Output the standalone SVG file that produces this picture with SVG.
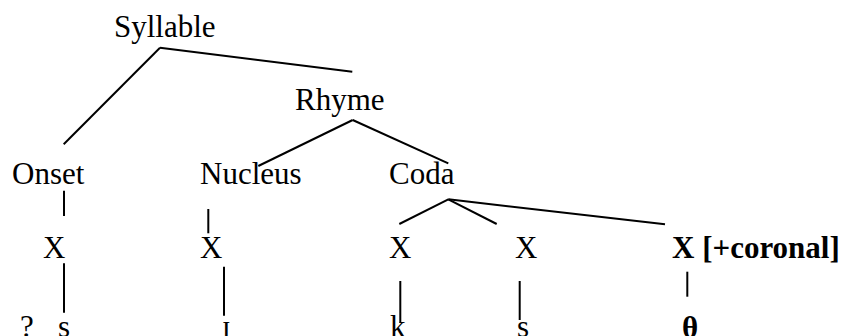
<svg xmlns="http://www.w3.org/2000/svg" width="847" height="336" viewBox="0 0 847 336">
<style>
text{font-family:"Liberation Serif","Times New Roman",serif;font-size:31px;fill:#000}
.b{font-weight:bold}
#connectors line{stroke:#000;stroke-width:2;fill:none}
</style>
<rect width="847" height="336" fill="#fff"/>
<g id="connectors">
<line x1="160" y1="47.7" x2="63.7" y2="144.3"/>
<line x1="160" y1="47.7" x2="352.3" y2="71.7"/>
<line x1="352.7" y1="120" x2="258.3" y2="166"/>
<line x1="352.7" y1="120" x2="448.3" y2="163.3"/>
<line x1="448.3" y1="199.3" x2="399.3" y2="224"/>
<line x1="448.3" y1="199.3" x2="496.7" y2="224"/>
<line x1="448.3" y1="199.3" x2="665" y2="224.3"/>
<line x1="64" y1="190.7" x2="64" y2="216"/>
<line x1="208.3" y1="209" x2="208.3" y2="233.3"/>
<line x1="64" y1="263.3" x2="64" y2="312.7"/>
<line x1="224" y1="266.7" x2="224" y2="315.7"/>
<line x1="400.3" y1="281" x2="400.3" y2="323"/>
<line x1="519.7" y1="281" x2="519.7" y2="320"/>
<line x1="687.3" y1="271.7" x2="687.3" y2="296.7"/>
</g>
<g id="syllable"><text x="114" y="37">Syllable</text></g>
<g id="rhyme"><text x="295" y="110">Rhyme</text></g>
<g id="onset"><text x="12" y="184">Onset</text></g>
<g id="nucleus"><text x="200" y="184">Nucleus</text></g>
<g id="coda"><text x="389" y="184">Coda</text></g>
<g id="x-onset"><text x="43" y="258">X</text></g>
<g id="x-nucleus"><text x="200" y="258">X</text></g>
<g id="x-coda1"><text x="389" y="258">X</text></g>
<g id="x-coda2"><text x="515" y="258">X</text></g>
<g id="x-coda3"><text class="b" x="672" y="258">X [+coronal]</text></g>
<g id="seg-q"><text x="20" y="337">?</text></g>
<g id="seg-s1"><text x="58" y="337">s</text></g>
<g id="seg-i"><text x="222" y="337">ɪ</text></g>
<g id="seg-k"><text x="390" y="337">k</text></g>
<g id="seg-s2"><text x="517" y="337">s</text></g>
<g id="seg-th"><text class="b" x="682" y="338">θ</text></g>
</svg>
